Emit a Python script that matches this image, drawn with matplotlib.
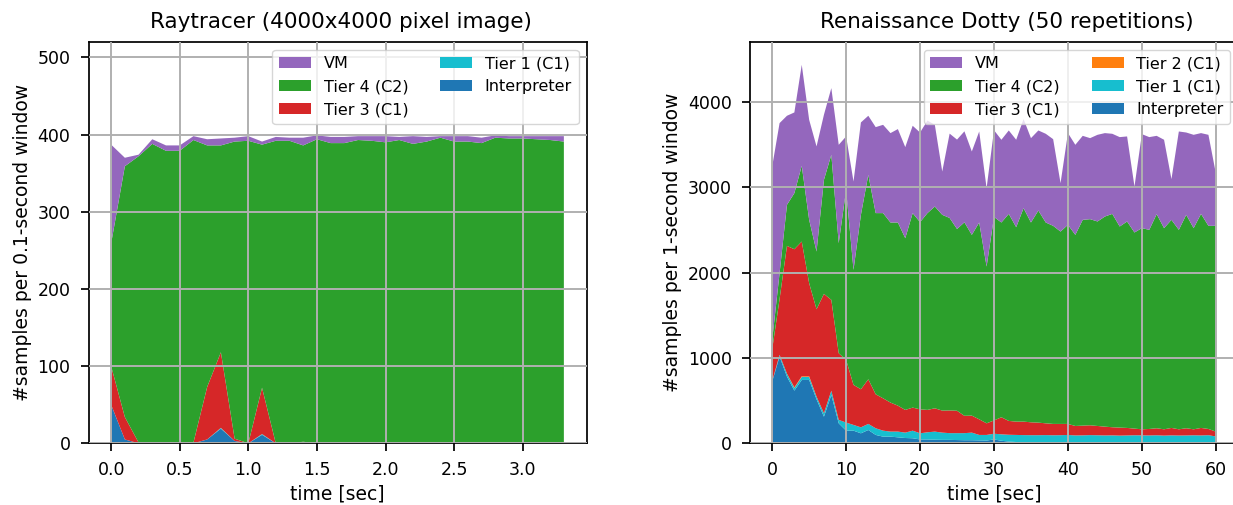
import numpy as np
import matplotlib
matplotlib.use("Agg")
import matplotlib.pyplot as plt

plt.rcParams.update({
    "font.family": ["DejaVu Sans"],
    "axes.linewidth": 1.25,
    "xtick.major.size": 6, "ytick.major.size": 6,
    "xtick.major.width": 1.25, "ytick.major.width": 1.25,
    "xtick.major.pad": 7, "ytick.major.pad": 7,
    "xtick.labelsize": 12.5, "ytick.labelsize": 12.5,
    "axes.labelsize": 13.5, "axes.titlesize": 15.5,
    "legend.fontsize": 11.5,
    "grid.color": "#b0b0b0", "grid.linewidth": 1.4,
})

LABELS = ["Interpreter", "Tier 1 (C1)", "Tier 2 (C1)", "Tier 3 (C1)", "Tier 4 (C2)", "VM"]
COLORS = ["#1f77b4", "#17becf", "#ff7f0e", "#d62728", "#2ca02c", "#9467bd"]

# --- Raytracer: samples per 0.1 s window ---
ray_time = [round(0.1 * i, 1) for i in range(34)]
ray_interp = [50, 5, 0, 0, 0, 0, 0, 5, 19, 3, 0, 11, 0, 0, 1, 0, 0,
              0, 0, 0, 0, 0, 0, 0, 0, 0, 0, 0, 0, 0, 0, 0, 0, 0]
ray_tier1 = [0, 0, 0, 0, 0, 0, 0, 0, 1, 0, 0, 1, 0, 0, 0, 0, 0,
             0, 0, 0, 0, 0, 0, 0, 0, 0, 0, 0, 0, 0, 0, 0, 0, 0]
ray_tier3 = [50, 29, 1, 0, 0, 0, 1, 68, 98, 3, 0, 60, 0, 0, 1, 0, 0,
             0, 0, 0, 0, 0, 0, 0, 0, 0, 0, 1, 0, 0, 0, 0, 0, 0]
ray_tier4 = [159, 325, 371, 388, 379, 379, 392, 313, 268, 385, 392, 315, 392, 392, 384, 394, 389,
             389, 393, 392, 390, 393, 388, 391, 396, 391, 391, 388, 396, 395, 395, 394, 393, 391]
ray_vm = [128, 11, 2, 6, 7, 7, 5, 8, 9, 5, 6, 4, 5, 4, 10, 5, 8,
          8, 5, 6, 8, 4, 10, 6, 2, 7, 7, 7, 3, 3, 3, 4, 5, 7]

# --- Renaissance Dotty: samples per 1 s window ---
dotty_time = list(range(61))
dotty_interp = [723, 1016, 781, 617, 742, 742, 516, 312, 566, 234, 148, 148, 117, 156, 98, 78,
                78, 70, 62, 59, 45, 45, 42, 40, 40, 38, 36, 36, 34, 32, 45, 30, 20, 15, 12, 10,
                10, 9, 9, 8, 8, 8, 7, 7, 7, 6, 6, 6, 6, 5, 5, 5, 5, 5, 5, 5, 5, 5, 5, 5, 4]
dotty_tier1 = [5, 20, 35, 30, 35, 35, 30, 40, 50, 40, 95, 67, 70, 71, 78, 70, 59, 67, 63, 89,
               72, 84, 95, 85, 79, 81, 83, 89, 64, 66, 67, 75, 80, 83, 84, 85, 85, 87, 85, 87,
               90, 84, 86, 89, 87, 86, 87, 84, 86, 89, 88, 87, 89, 85, 88, 86, 87, 89, 87, 90, 76]
dotty_tier2 = [0, 0, 0, 8, 8, 8, 0, 0, 0, 0, 0, 0, 0, 0, 0, 0, 0, 0, 0, 0, 0, 0, 0, 0, 0, 0,
               0, 0, 0, 0, 0, 0, 0, 0, 0, 0, 0, 0, 0, 0, 0, 0, 0, 0, 0, 0, 0, 0, 0, 0, 0, 0,
               0, 0, 0, 0, 0, 0, 0, 0, 0]
dotty_tier3 = [372, 654, 1496, 1618, 1578, 1090, 1024, 1398, 1064, 781, 734, 469, 446, 523, 398,
               379, 340, 304, 266, 270, 281, 262, 273, 258, 266, 262, 203, 199, 183, 136, 156,
               200, 162, 156, 158, 151, 147, 138, 133, 132, 129, 111, 114, 115, 109, 103, 95, 94,
               88, 78, 71, 76, 82, 74, 87, 73, 84, 70, 88, 73, 57]
dotty_tier4 = [111, 302, 481, 657, 887, 742, 676, 1336, 1699, 1289, 1992, 1347, 2043, 2394, 2122,
               2169, 2109, 2145, 2011, 2278, 2192, 2305, 2363, 2293, 2254, 2129, 2266, 2117, 2305,
               1836, 2383, 2281, 2425, 2277, 2500, 2340, 2484, 2352, 2320, 2253, 2332, 2238, 2410,
               2414, 2395, 2461, 2499, 2355, 2418, 2297, 2356, 2332, 2508, 2356, 2437, 2336, 2500,
               2356, 2507, 2379, 2410]
dotty_vm = [2031, 1758, 1043, 945, 1183, 1172, 1231, 762, 781, 1152, 625, 1035, 1082, 692, 1007,
            1034, 1047, 1094, 1067, 1023, 1050, 1084, 957, 507, 988, 1047, 1066, 977, 1066, 918,
            1016, 969, 977, 1024, 1043, 988, 938, 1039, 1015, 567, 1074, 1055, 984, 949, 1015,
            977, 938, 1047, 996, 539, 1101, 1086, 917, 1035, 477, 1152, 964, 1093, 946, 1066, 617]

W, H = 1233, 505
fig = plt.figure(figsize=(W / 100, H / 100), dpi=100)
ax1 = fig.add_axes([88.5 / W, (H - 443.3) / H, 498 / W, 401.3 / H])
ax2 = fig.add_axes([750 / W, (H - 443.3) / H, 488 / W, 401.3 / H])


def draw(ax, t, series, labels, colors):
    ax.stackplot(t, *series, labels=labels, colors=colors)
    ax.grid(True)
    ax.set_axisbelow(False)
    handles, labs = ax.get_legend_handles_labels()
    ax.legend(handles[::-1], labs[::-1], loc="upper right", ncol=2)


draw(ax1, ray_time,
     [ray_interp, ray_tier1, ray_tier3, ray_tier4, ray_vm],
     [LABELS[0], LABELS[1], LABELS[3], LABELS[4], LABELS[5]],
     [COLORS[0], COLORS[1], COLORS[3], COLORS[4], COLORS[5]])
ax1.set_ylim(0, 520)
ax1.set_xticks([0.0, 0.5, 1.0, 1.5, 2.0, 2.5, 3.0])
ax1.set_xlabel("time [sec]")
ax1.set_ylabel("#samples per 0.1-second window")
ax1.set_title("Raytracer (4000x4000 pixel image)", pad=10, x=0.507)

draw(ax2, dotty_time,
     [dotty_interp, dotty_tier1, dotty_tier2, dotty_tier3, dotty_tier4, dotty_vm],
     LABELS, COLORS)
ax2.set_ylim(0, 4700)
ax2.set_xticks([0, 10, 20, 30, 40, 50, 60])
ax2.set_yticks([0, 1000, 2000, 3000, 4000])
ax2.set_xlabel("time [sec]")
ax2.set_ylabel("#samples per 1-second window")
ax2.set_title("Renaissance Dotty (50 repetitions)", pad=10, x=0.527)

fig.savefig("out.png", dpi=100)
